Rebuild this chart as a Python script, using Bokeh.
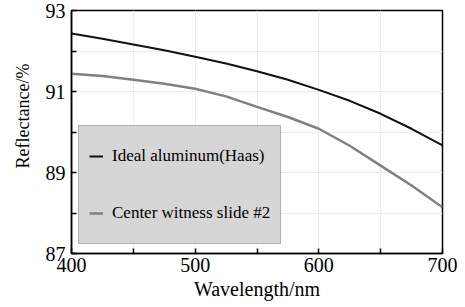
from bokeh.plotting import figure
from bokeh.models import Range1d, FixedTicker, Legend, LegendItem, Title
from bokeh.embed import file_html
from bokeh.resources import INLINE

wavelength = [400, 425, 450, 475, 500, 525, 550, 575, 600, 625, 650, 675, 700]
ideal_al = [92.43, 92.30, 92.16, 92.02, 91.86, 91.69, 91.50, 91.29, 91.04, 90.77, 90.45, 90.08, 89.67]
witness = [91.44, 91.38, 91.29, 91.19, 91.07, 90.88, 90.62, 90.37, 90.08, 89.66, 89.17, 88.68, 88.14]

x_major = [400, 500, 600, 700]
x_minor = [450, 550, 650]
y_major = [87, 89, 91, 93]
y_minor = [88, 90, 92]

series_names = ["Ideal aluminum(Haas)", "Center witness slide #2"]
x_title = "Wavelength/nm"
y_title = "Reflectance/%"

FONT = "Liberation Serif"

p = figure(width=465, height=307, output_backend="svg", toolbar_location=None,
           x_range=Range1d(400, 700), y_range=Range1d(87, 93),
           min_border_left=71, min_border_right=23, min_border_top=10, min_border_bottom=54)
p.background_fill_color = "white"
p.border_fill_color = "white"
p.outline_line_color = "black"
p.outline_line_width = 1.5

r1 = p.line(wavelength, ideal_al, line_color="#111111", line_width=2)
r2 = p.line(wavelength, witness, line_color="#808080", line_width=2.5)

for ax, maj, mn in ((p.xaxis[0], x_major, x_minor), (p.yaxis[0], y_major, y_minor)):
    ax.ticker = FixedTicker(ticks=maj, minor_ticks=mn)
    ax.major_tick_in = 5
    ax.major_tick_out = 0
    ax.minor_tick_in = 5
    ax.minor_tick_out = 0
    ax.major_tick_line_color = "black"
    ax.minor_tick_line_color = "black"
    ax.major_tick_line_width = 1.5
    ax.minor_tick_line_width = 1.5
    ax.axis_line_color = "black"
    ax.axis_line_width = 1.5
    ax.major_label_text_font = FONT
    ax.major_label_text_font_size = "20px"
    ax.major_label_text_color = "black"

p.xaxis.major_label_standoff = 4
p.yaxis.major_label_standoff = 6
p.xaxis.axis_label = x_title
p.xaxis.axis_label_standoff = 3
p.xaxis.axis_label_text_font = FONT
p.xaxis.axis_label_text_font_size = "20px"
p.xaxis.axis_label_text_font_style = "normal"
p.xaxis.axis_label_text_color = "black"

for g in (p.xgrid[0], p.ygrid[0]):
    g.grid_line_color = "#ececec"
    g.minor_grid_line_color = "#ececec"
    g.grid_line_width = 1
    g.minor_grid_line_width = 1

legend = Legend(items=[LegendItem(label=series_names[0], renderers=[r1]),
                       LegendItem(label=series_names[1], renderers=[r2])],
                location=(7, 9), margin=0, padding=10, spacing=17,
                label_height=40, glyph_height=40, glyph_width=14, label_standoff=9,
                label_text_font=FONT, label_text_font_size="17px", label_text_color="black",
                background_fill_color="#d6d6d6", background_fill_alpha=1.0,
                border_line_color="#8a8a8a", border_line_width=1.5)
p.add_layout(legend, "center")

ytitle = Title(text=y_title, align="right", offset=53, standoff=20,
               text_font=FONT, text_font_size="18px", text_font_style="normal",
               text_color="black")
p.add_layout(ytitle, "left")

open("out.html", "w").write(file_html(p, INLINE))
